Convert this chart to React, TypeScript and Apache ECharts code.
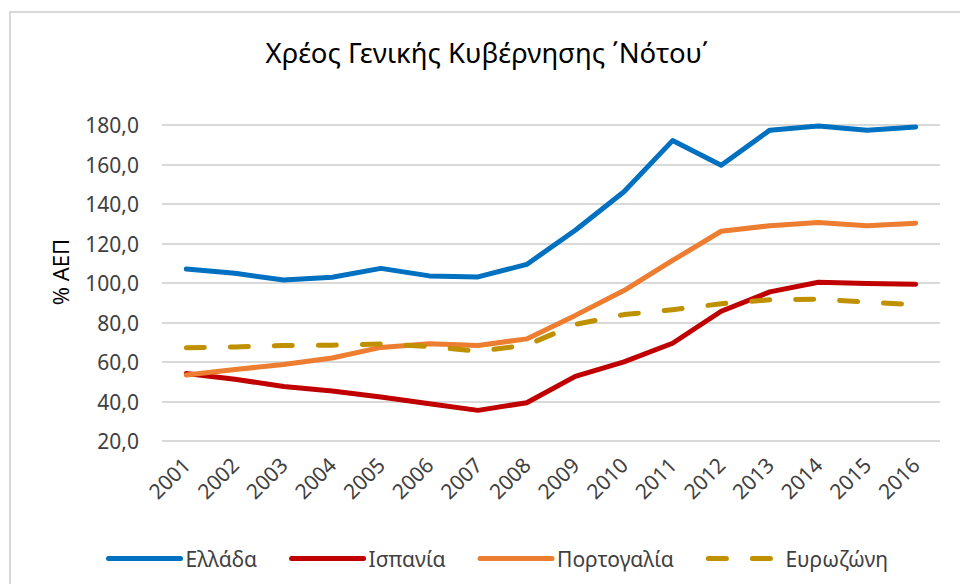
import React, { useEffect, useRef } from "react";
import * as echarts from "echarts";

const years = ["2001","2002","2003","2004","2005","2006","2007","2008","2009","2010","2011","2012","2013","2014","2015","2016"];
const greece = [107.1, 104.9, 101.5, 102.9, 107.4, 103.6, 103.1, 109.4, 126.7, 146.2, 172.1, 159.6, 177.4, 179.5, 177.4, 179.0];
const spain = [54.2, 51.3, 47.6, 45.3, 42.3, 38.9, 35.5, 39.4, 52.7, 60.1, 69.5, 85.7, 95.5, 100.4, 99.8, 99.4];
const portugal = [53.4, 56.2, 58.7, 62.0, 67.4, 69.2, 68.4, 71.7, 83.6, 96.2, 111.4, 126.2, 129.0, 130.6, 129.0, 130.3];
const eurozone = [67.2, 67.6, 68.3, 68.5, 69.1, 67.8, 65.5, 68.5, 79.0, 84.0, 86.5, 89.5, 91.5, 91.8, 90.3, 89.0];
const seriesNames = ["Ελλάδα", "Ισπανία", "Πορτογαλία", "Ευρωζώνη"];
const titleText = "Χρέος Γενικής Κυβέρνησης ΄Νότου΄";
const yName = "% ΑΕΠ";

const FONT = "'Noto Sans', sans-serif";

export default function App() {
  const ref = useRef<HTMLDivElement>(null);
  useEffect(() => {
    if (!ref.current) return;
    const chart = echarts.init(ref.current, undefined, { renderer: "svg" });
    const mk = (name: string, data: number[], color: string, dashed = false) => ({
      name,
      type: "line",
      data,
      showSymbol: false,
      symbol: "none",
      lineStyle: {
        color,
        width: 5,
        cap: "round",
        join: "round",
        type: dashed ? [18, 26] : "solid",
      },
      itemStyle: { color },
    });
    chart.setOption({
      animation: false,
      backgroundColor: "#ffffff",
      textStyle: { fontFamily: FONT },
      graphic: [
        {
          type: "rect",
          shape: { x: 10, y: 12, width: 980, height: 620 },
          style: { fill: "none", stroke: "#d9d9d9", lineWidth: 2 },
          silent: true,
        },
        {
          type: "text",
          x: 487,
          y: 52,
          style: {
            text: titleText,
            fontFamily: FONT,
            fontSize: 27.5,
            fill: "#000000",
            align: "center",
            verticalAlign: "middle",
          },
        },
        {
          type: "text",
          x: 60,
          y: 272,
          rotation: Math.PI / 2,
          style: {
            text: yName,
            fontFamily: FONT,
            fontSize: 22,
            fill: "#000000",
            align: "center",
            verticalAlign: "middle",
          },
        },
      ],
      grid: { left: 162, right: 20, top: 125, bottom: 143, containLabel: false },
      legend: {
        left: 101,
        top: 543,
        itemWidth: 72,
        itemHeight: 14,
        itemGap: 32,
        data: seriesNames,
        itemStyle: { opacity: 0 },
        lineStyle: { width: 5, cap: "round" },
        textStyle: { fontFamily: FONT, fontSize: 21, color: "#404040" },
      },
      xAxis: {
        type: "category",
        data: years,
        boundaryGap: true,
        axisLine: { show: false },
        axisTick: { show: false },
        axisLabel: {
          rotate: 45,
          interval: 0,
          margin: 20,
          fontFamily: FONT,
          fontSize: 21,
          color: "#404040",
        },
      },
      yAxis: {
        type: "value",
        min: 20,
        max: 180,
        interval: 20,
        axisLine: { show: false },
        axisTick: { show: false },
        splitLine: { lineStyle: { color: "#d9d9d9", width: 2 } },
        axisLabel: {
          margin: 23,
          fontFamily: FONT,
          fontSize: 21,
          color: "#404040",
          formatter: (v: number) => v.toFixed(1).replace(".", ","),
        },
      },
      series: [
        mk(seriesNames[0], greece, "#0070C0"),
        mk(seriesNames[1], spain, "#C00000"),
        mk(seriesNames[2], portugal, "#ED7D31"),
        mk(seriesNames[3], eurozone, "#BF9000", true),
      ],
    });
    return () => chart.dispose();
  }, []);
  return (
    <div
      ref={ref}
      style={{ position: "fixed", left: 0, top: 0, width: 960, height: 584 }}
    />
  );
}
